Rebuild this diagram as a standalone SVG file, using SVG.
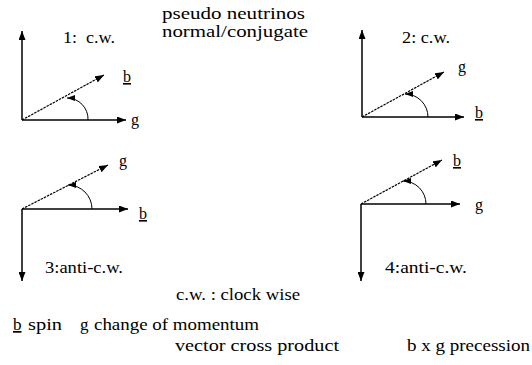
<svg xmlns="http://www.w3.org/2000/svg" width="532" height="365" viewBox="0 0 532 365">
<defs>
<marker id="ah" viewBox="0 0 9 7" refX="9" refY="3.5" markerWidth="9" markerHeight="7" markerUnits="userSpaceOnUse" orient="auto"><path d="M0,0 L9,3.5 L0,7 z" fill="#000"/></marker>
<marker id="ahs" viewBox="0 0 8 6" refX="8" refY="3" markerWidth="8" markerHeight="6" markerUnits="userSpaceOnUse" orient="auto"><path d="M0,0 L8,3 L0,6 z" fill="#000"/></marker>
<style>
.ax{stroke:#000;stroke-width:1.5;fill:none;marker-end:url(#ah)}
.vec{stroke:#000;stroke-width:1.2;stroke-dasharray:2.5,1;fill:none;marker-end:url(#ah)}
.arc{stroke:#000;stroke-width:1;fill:none;marker-end:url(#ahs)}
text{font-family:'Liberation Serif','Times New Roman','DejaVu Serif',serif;fill:#000}
.t{font-size:16px}
.w{font-size:17px}
.u{text-decoration:underline}
</style>
</defs>
<rect width="532" height="365" fill="#fff"/>
<g id="connectors">
<path class="ax" d="M22,120 L22,31"/>
<path class="ax" d="M22,120 L126,120"/>
<path class="vec" d="M22,120 L104,75"/>
<path class="arc" d="M88,120 A21,21 0 0 0 67,98"/>
<path class="ax" d="M362,117 L362,30"/>
<path class="ax" d="M362,117 L464,117"/>
<path class="vec" d="M362,117 L444,72"/>
<path class="arc" d="M428,117 A23,23 0 0 0 405,94"/>
<path class="ax" d="M22,209 L22,281"/>
<path class="ax" d="M22,209 L128,209"/>
<path class="vec" d="M22,209 L108,165"/>
<path class="arc" d="M92,209 A24,24 0 0 0 68,185"/>
<path class="ax" d="M361,204 L361,281"/>
<path class="ax" d="M361,204 L460,204"/>
<path class="vec" d="M361,204 L442,160"/>
<path class="arc" d="M426,204 A23,23 0 0 0 403,181"/>
</g>
<g id="title" font-family="Liberation Serif, serif">
<text class="w" x="162" y="19" textLength="143" lengthAdjust="spacingAndGlyphs">pseudo neutrinos</text>
<text class="w" x="162" y="37" textLength="146" lengthAdjust="spacingAndGlyphs">normal/conjugate</text>
</g>
<g id="node1">
<text class="w" x="63" y="43" font-size="15" textLength="52" lengthAdjust="spacingAndGlyphs" xml:space="preserve">1:  c.w.</text>
<text class="t u" x="123" y="82">b</text>
<text class="t" x="131" y="125">g</text>
</g>
<g id="node2">
<text class="t" x="402" y="43" textLength="48" lengthAdjust="spacingAndGlyphs">2: c.w.</text>
<text class="t" x="458" y="72">g</text>
<text class="t u" x="475" y="118">b</text>
</g>
<g id="node3">
<text class="t" x="119" y="166">g</text>
<text class="t u" x="139" y="219">b</text>
<text class="t" x="45" y="273" textLength="78" lengthAdjust="spacingAndGlyphs">3:anti-c.w.</text>
</g>
<g id="node4">
<text class="t u" x="453" y="166">b</text>
<text class="t" x="475" y="210">g</text>
<text class="t" x="385" y="273" textLength="82" lengthAdjust="spacingAndGlyphs">4:anti-c.w.</text>
</g>
<g id="legend">
<text class="w" x="176" y="300" font-size="16" textLength="124" lengthAdjust="spacingAndGlyphs">c.w. : clock wise</text>
<text class="w u" x="13" y="330">b</text>
<text class="w" x="28" y="330" textLength="34" lengthAdjust="spacingAndGlyphs">spin</text>
<text class="w u" x="80" y="330">g</text>
<text class="w" x="94" y="330" textLength="165" lengthAdjust="spacingAndGlyphs">change of momentum</text>
<text class="w" x="175" y="351" textLength="164" lengthAdjust="spacingAndGlyphs">vector cross product</text>
<text class="w" x="407" y="351" textLength="123" lengthAdjust="spacingAndGlyphs">b x g precession</text>
</g>
</svg>
